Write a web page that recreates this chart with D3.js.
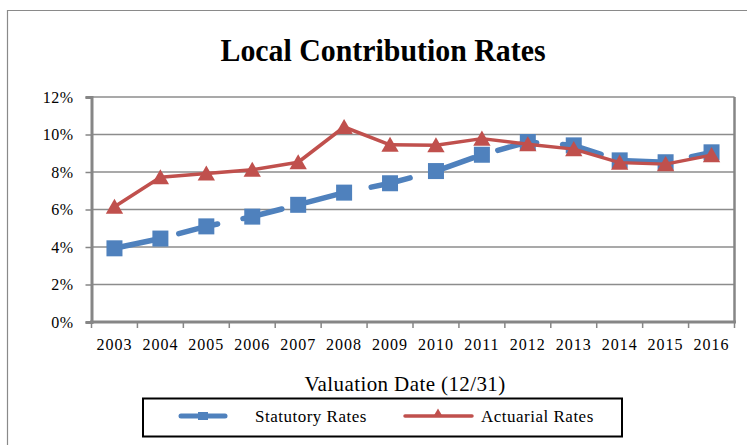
<!DOCTYPE html>
<html>
<head>
<meta charset="utf-8">
<script src="https://cdn.jsdelivr.net/npm/d3@7"></script>
<style>
  body { margin: 0; background: #fff; }
  svg { display: block; font-family: "Liberation Serif", "Times New Roman", serif; }
</style>
</head>
<body>
<svg></svg>
<script>
var width = 747,
    height = 445;

// data
var years = ["2003", "2004", "2005", "2006", "2007", "2008", "2009",
             "2010", "2011", "2012", "2013", "2014", "2015", "2016"];
var statutory = [3.93, 4.45, 5.1, 5.62, 6.25, 6.9, 7.4, 8.05, 8.92, 9.6, 9.42, 8.62, 8.52, 9.05];
var actuarial = [6.15, 7.72, 7.92, 8.12, 8.52, 10.4, 9.45, 9.43, 9.78, 9.48, 9.22, 8.5, 8.42, 8.9];
var yTicks = [0, 2, 4, 6, 8, 10, 12];
var seriesNames = ["Statutory Rates", "Actuarial Rates"];

var blue = "#4f81bd",
    red = "#c0504d",
    axisGray = "#868686";

var svg = d3.select("svg")
    .attr("width", width)
    .attr("height", height);

// outer chart frame (runs off the right/bottom edge)
svg.append("path")
    .attr("d", "M7.5,450 V10.5 H760")
    .attr("fill", "none")
    .attr("stroke", "#8a8a8a")
    .attr("stroke-width", 1.2);

svg.append("text")
    .attr("x", 383)
    .attr("y", 61)
    .attr("text-anchor", "middle")
    .attr("font-size", 32)
    .attr("font-weight", "bold")
    .attr("textLength", 325)
    .attr("lengthAdjust", "spacingAndGlyphs")
    .text("Local Contribution Rates");

var x = d3.scaleBand()
    .domain(years)
    .range([91.5, 734.5])
    .padding(0);
var y = d3.scaleLinear()
    .domain([0, 12])
    .range([322, 97]);
var cx = d => x(d) + x.bandwidth() / 2;

// gridlines
svg.append("g")
    .selectAll("line")
    .data(yTicks.filter(d => d > 0))
    .enter()
    .append("line")
    .attr("x1", 91.5)
    .attr("x2", 734.5)
    .attr("y1", d => y(d))
    .attr("y2", d => y(d))
    .attr("stroke", "#8c8c8c")
    .attr("stroke-width", 1.5);

// right border of plot
svg.append("line")
    .attr("x1", 734.5).attr("x2", 734.5)
    .attr("y1", 97).attr("y2", 322)
    .attr("stroke", axisGray)
    .attr("stroke-width", 2.5);

// y axis
var yAxis = svg.append("g")
    .attr("transform", "translate(91.5,0)")
    .call(d3.axisLeft(y).tickValues(yTicks).tickSize(6).tickPadding(12).tickFormat(d => d + "%"));
yAxis.select(".domain").attr("stroke", axisGray).attr("stroke-width", 3);
yAxis.selectAll(".tick line").attr("stroke", axisGray).attr("stroke-width", 1.5);
yAxis.selectAll(".tick text")
    .attr("font-family", "Liberation Serif")
    .attr("font-size", 16)
    .attr("fill", "#000")
    .attr("letter-spacing", 0.5);

// x axis: ticks at band edges
var xAxis = svg.append("g")
    .attr("transform", "translate(0,322)");
xAxis.append("line")
    .attr("x1", 90).attr("x2", 736)
    .attr("stroke", axisGray)
    .attr("stroke-width", 3);
xAxis.selectAll(".xt")
    .data(years.concat(["end"]))
    .enter()
    .append("line")
    .attr("x1", (d, i) => i < years.length ? x(d) : x.range()[1])
    .attr("x2", (d, i) => i < years.length ? x(d) : x.range()[1])
    .attr("y1", 0)
    .attr("y2", 6)
    .attr("stroke", axisGray)
    .attr("stroke-width", 1.5);
xAxis.selectAll("text")
    .data(years)
    .enter()
    .append("text")
    .attr("x", d => cx(d))
    .attr("y", 28)
    .attr("text-anchor", "middle")
    .attr("font-size", 16)
    .attr("letter-spacing", 1)
    .text(d => d);

svg.append("text")
    .attr("x", 405)
    .attr("y", 391)
    .attr("text-anchor", "middle")
    .attr("font-size", 21)
    .attr("letter-spacing", 0.4)
    .text("Valuation Date (12/31)");

// series
var line = d3.line()
    .x((d, i) => cx(years[i]))
    .y(d => y(d));

svg.append("path")
    .datum(statutory)
    .attr("d", line)
    .attr("fill", "none")
    .attr("stroke", blue)
    .attr("stroke-width", 5.5)
    .attr("stroke-linecap", "round")
    .attr("stroke-dasharray", "40,26");

svg.append("g")
    .selectAll("rect")
    .data(statutory)
    .enter()
    .append("rect")
    .attr("x", (d, i) => cx(years[i]) - 8)
    .attr("y", d => y(d) - 8)
    .attr("width", 16)
    .attr("height", 16)
    .attr("fill", blue);

svg.append("path")
    .datum(actuarial)
    .attr("d", line)
    .attr("fill", "none")
    .attr("stroke", red)
    .attr("stroke-width", 3.5)
    .attr("stroke-linejoin", "round");

// triangles: symbol is centred on its centroid, shift so the box is centred on the value
var tri = d3.symbol().type(d3.symbolTriangle).size(130);
svg.append("g")
    .selectAll("path")
    .data(actuarial)
    .enter()
    .append("path")
    .attr("d", tri)
    .attr("transform", (d, i) => "translate(" + cx(years[i]) + "," + (y(d) + 2) + ")")
    .attr("fill", red);

// legend
var legend = svg.append("g");
legend.append("rect")
    .attr("x", 143).attr("y", 398.5)
    .attr("width", 479).attr("height", 38)
    .attr("fill", "#fff")
    .attr("stroke", "#000")
    .attr("stroke-width", 2);

legend.append("line")
    .attr("x1", 181).attr("x2", 225)
    .attr("y1", 416).attr("y2", 416)
    .attr("stroke", blue)
    .attr("stroke-width", 5)
    .attr("stroke-linecap", "round");
legend.append("rect")
    .attr("x", 198).attr("y", 412)
    .attr("width", 10).attr("height", 8)
    .attr("fill", blue);
legend.append("text")
    .attr("x", 255).attr("y", 422)
    .attr("font-size", 17)
    .attr("letter-spacing", 0.5)
    .text(seriesNames[0]);

legend.append("line")
    .attr("x1", 405).attr("x2", 472)
    .attr("y1", 416).attr("y2", 416)
    .attr("stroke", red)
    .attr("stroke-width", 3.5)
    .attr("stroke-linecap", "round");
legend.append("path")
    .attr("d", d3.symbol().type(d3.symbolTriangle).size(40))
    .attr("transform", "translate(438,414)")
    .attr("fill", red);
legend.append("text")
    .attr("x", 481).attr("y", 422)
    .attr("font-size", 17)
    .attr("letter-spacing", 0.5)
    .text(seriesNames[1]);
</script>
</body>
</html>
